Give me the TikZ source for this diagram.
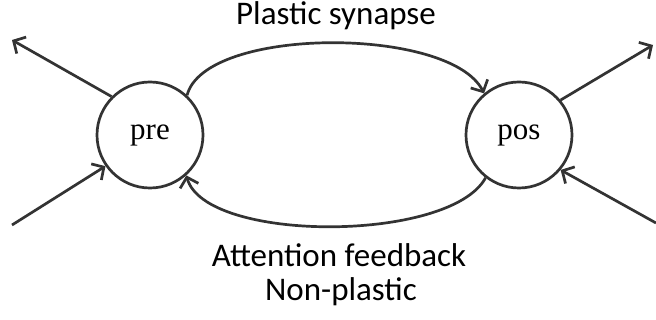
\documentclass[tikz,border=0pt]{standalone}
\usepackage{fontspec}
\setmainfont{Liberation Serif}
\newfontfamily\labelfont{Carlito}
\usetikzlibrary{arrows.meta}
\definecolor{ink}{HTML}{333333}
\tikzset{
  neuron/.style={circle, draw=ink, line width=2.7pt, minimum size=106pt, inner sep=0pt, font=\fontsize{31}{36}\selectfont},
  conn/.style={draw=ink, line width=2.7pt, -{Straight Barb[length=9pt,width=19pt]}},
  lbl/.style={font=\labelfont\fontsize{33}{38}\selectfont, text=black, inner sep=0pt, anchor=base}
}
\begin{document}
\begin{tikzpicture}[x=1pt,y=-1pt]
\useasboundingbox (0,0) rectangle (656,320);
\node[neuron] (pre) at (150,135) {pre};
\node[neuron] (pos) at (519,135) {pos};
\coordinate (tl) at (12,40);
\coordinate (bl) at (12,225);
\coordinate (tr) at (653,45);
\coordinate (br) at (656,223);
\node[lbl] (syn) at (336,25) {Plastic synapse};
\node[lbl] (att) at (339,267) {Attention feedback};
\node[lbl] (np) at (341,301) {Non-plastic};
\draw[conn] (pre.135) -- (tl);
\draw[conn] (bl) -- (pre.215);
\draw[conn] (pos.40) -- (tr);
\draw[conn] (br) -- (pos.-40);
\draw[conn] (pre.47) .. controls (205,26) and (450,26) .. (pos.130);
\draw[conn] (pos.-128) .. controls (450,243) and (205,243) .. (pre.-48);
\end{tikzpicture}
\end{document}
